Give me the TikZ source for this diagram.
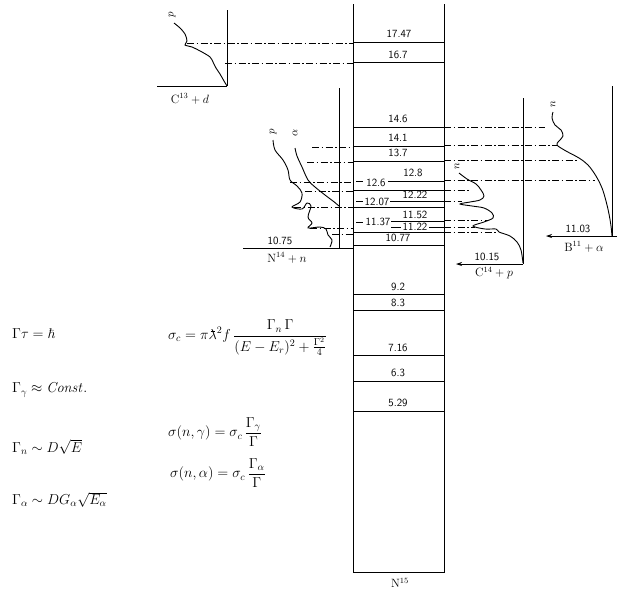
\documentclass[tikz,border=0pt]{standalone}
\usepackage{amsmath,amssymb}
\usetikzlibrary{arrows.meta}
\newcommand{\lambar}{\mathord{\lambda\llap{\rule[0.56em]{0.3em}{0.05em}\kern0.14em}}}
\tikzset{
  frameline/.style={line width=0.8pt},
  levelline/.style={line width=0.7pt},
  leader/.style={line width=0.45pt, dash pattern=on 7pt off 2.5pt on 1.5pt off 2.5pt},
  xsect/.style={line width=0.9pt, smooth, tension=0.55},
  levelnum/.style={font=\sffamily\fontsize{11}{12}\selectfont, inner sep=0pt},
  chanlabel/.style={font=\fontsize{12}{14}\selectfont, inner sep=0pt},
  curvetag/.style={font=\fontsize{11}{12}\selectfont, inner sep=0pt, rotate=90},
  formula/.style={font=\fontsize{14}{16}\selectfont, anchor=west, inner sep=0pt},
  chanarrow/.style={-{Stealth[length=6pt,width=4pt]}, line width=0.8pt}
}

\begin{document}
\begin{tikzpicture}[x=1pt,y=-1pt]
\useasboundingbox (0,0) rectangle (621,590);
% N15 levels
\draw[frameline] (353,4) -- (353,572) -- (444,572) -- (444,4);
\node[chanlabel] (n15) at (400,583) {$\mathrm{N}^{15}$};
\draw[levelline] (353,42) -- (444,42);
\node[levelnum] (e1747) at (399,34) {17.47};
\draw[levelline] (353,62) -- (444,62);
\node[levelnum] (e167) at (398,55) {16.7};
\draw[levelline] (353,127) -- (444,127);
\node[levelnum] (e146) at (398,119) {14.6};
\draw[levelline] (353,146) -- (444,146);
\node[levelnum] (e141) at (398,138) {14.1};
\draw[levelline] (353,161) -- (444,161);
\node[levelnum] (e137) at (398,153) {13.7};
\draw[levelline] (356,181) -- (363,181);
\node[levelnum] (e126) at (376,183) {12.6};
\draw[levelline] (388,181) -- (444,181);
\node[levelnum] (e128) at (413,173) {12.8};
\draw[levelline] (353,190) -- (444,190);
\draw[levelline] (356,201) -- (363,201);
\node[levelnum] (e1207) at (377,202) {12.07};
\draw[levelline] (390,201) -- (444,201);
\node[levelnum] (e1222) at (415,195) {12.22};
\draw[levelline] (353,207) -- (444,207);
\node[levelnum] (e1152) at (415,215) {11.52};
\draw[levelline] (356,222) -- (363,222);
\node[levelnum] (e1137) at (378,222) {11.37};
\draw[levelline] (391,221) -- (444,221);
\draw[levelline] (391,227) -- (401,227);
\node[levelnum] (e1122) at (415,227) {11.22};
\draw[levelline] (429,227) -- (444,227);
\draw[levelline] (353,232) -- (444,232);
\draw[levelline] (353,245) -- (444,245);
\node[levelnum] (e1077) at (398,238) {10.77};
\draw[levelline] (353,294) -- (444,294);
\node[levelnum] (e92) at (398,287) {9.2};
\draw[levelline] (353,310) -- (444,310);
\node[levelnum] (e83) at (398,303) {8.3};
\draw[levelline] (353,355) -- (444,355);
\node[levelnum] (e716) at (398,348) {7.16};
\draw[levelline] (353,381) -- (444,381);
\node[levelnum] (e63) at (398,373) {6.3};
\draw[levelline] (353,411) -- (444,411);
\node[levelnum] (e529) at (398,403) {5.29};

% C13 + d
\draw[frameline] (227,10) -- (227,86);
\draw[frameline] (157,86) -- (227,86);
\node[chanlabel] (c13d) at (190,99) {$\mathrm{C}^{13}+d$};
\draw[xsect] plot coordinates {(174,23) (180,28) (185,34) (187,41) (185,45) (192,47) (202,52) (210,57) (213,62) (216,68) (220,74) (224,81) (227,86)};
\node[curvetag] (c13p) at (172,15) {$p$};
\draw[leader] (187,43) -- (353,43);
\draw[leader] (225,63) -- (353,63);

% N14 + n
\draw[frameline] (339,88) -- (339,248);
\draw[frameline] (243,248) -- (353,248);
\node[levelnum] (thr1075) at (280,241) {10.75};
\node[chanlabel] (n14n) at (287,258) {$\mathrm{N}^{14}+n$};
\draw[xsect] plot coordinates {(273,140) (275,150) (283,160) (288,170) (290,180) (297,186) (302,193) (300,202) (292,207) (302,209) (307,203) (311,206) (308,217) (312,223) (308,228) (320,227) (326,229) (328,235) (332,240) (330,247)};
\draw[xsect] plot coordinates {(295,148) (297,156) (302,167) (308,180) (315,187) (325,195) (333,201) (339,206)};
\node[curvetag] (n14p) at (273,132) {$p$};
\node[curvetag] (n14a) at (295,133) {$\alpha$};
\draw[leader] (312,147) -- (353,147);
\draw[leader] (307,162) -- (353,162);
\draw[leader] (290,182) -- (353,182);
\draw[leader] (305,191) -- (353,191);
\draw[leader] (294,207) -- (353,207);
\draw[leader] (310,228) -- (353,228);
\draw[leader] (332,234) -- (353,234);

% C14 + p
\draw[frameline] (523,98) -- (523,264);
\draw[chanarrow] (523,264) -- (456,264);
\node[levelnum] (thr1015) at (487,257) {10.15};
\node[chanlabel] (c14p) at (494,273) {$\mathrm{C}^{14}+p$};
\draw[xsect] plot coordinates {(459,173) (467,179) (476,184) (481,190) (484,196) (480,200) (470,202) (460,204) (472,206) (484,208) (492,213) (493,218) (484,222) (473,226) (485,229) (496,229) (499,232) (510,236) (517,242) (521,250) (523,263)};
\node[curvetag] (c14n) at (457,166) {$n$};
\draw[leader] (444,190) -- (470,190);
\draw[leader] (444,201) -- (462,201);
\draw[leader] (444,220) -- (488,220);
\draw[leader] (444,227) -- (475,227);
\draw[leader] (444,232) -- (496,232);

% B11 + alpha
\draw[frameline] (612,86) -- (612,236);
\draw[chanarrow] (617,236) -- (546,236);
\node[levelnum] (thr1103) at (578,229) {11.03};
\node[chanlabel] (b11a) at (584,247) {$\mathrm{B}^{11}+\alpha$};
\draw[xsect] plot coordinates {(553,112) (552,118) (555,125) (561,130) (563,136) (559,141) (557,145) (566,151) (579,158) (588,165) (596,176) (602,188) (606,201) (609,214) (611,226) (612,236)};
\node[curvetag] (b11n) at (553,104) {$n$};
\draw[leader] (444,127) -- (545,127);
\draw[leader] (444,145) -- (557,145);
\draw[leader] (444,160) -- (578,160);
\draw[leader] (444,180) -- (595,180);

% formulas
\node[formula] (hbar) at (12,334) {$\Gamma\tau=\hbar$};
\node[formula] (sigc) at (168,338) {$\sigma_c=\pi\lambar^2 f\,\dfrac{\Gamma_n\,\Gamma}{(E-E_r)^2+\frac{\Gamma^2}{4}}$};
\node[formula] (gamg) at (12,390) {$\Gamma_\gamma\approx\mathit{Const.}$};
\node[formula] (signg) at (168,432) {$\sigma(n,\gamma)=\sigma_c\,\dfrac{\Gamma_\gamma}{\Gamma}$};
\node[formula] (gamn) at (12,447) {$\Gamma_n\sim D\sqrt{E}$};
\node[formula] (signa) at (170,473) {$\sigma(n,\alpha)=\sigma_c\,\dfrac{\Gamma_\alpha}{\Gamma}$};
\node[formula] (gama) at (12,500) {$\Gamma_\alpha\sim DG_\alpha\sqrt{E_\alpha}$};
\end{tikzpicture}
\end{document}
